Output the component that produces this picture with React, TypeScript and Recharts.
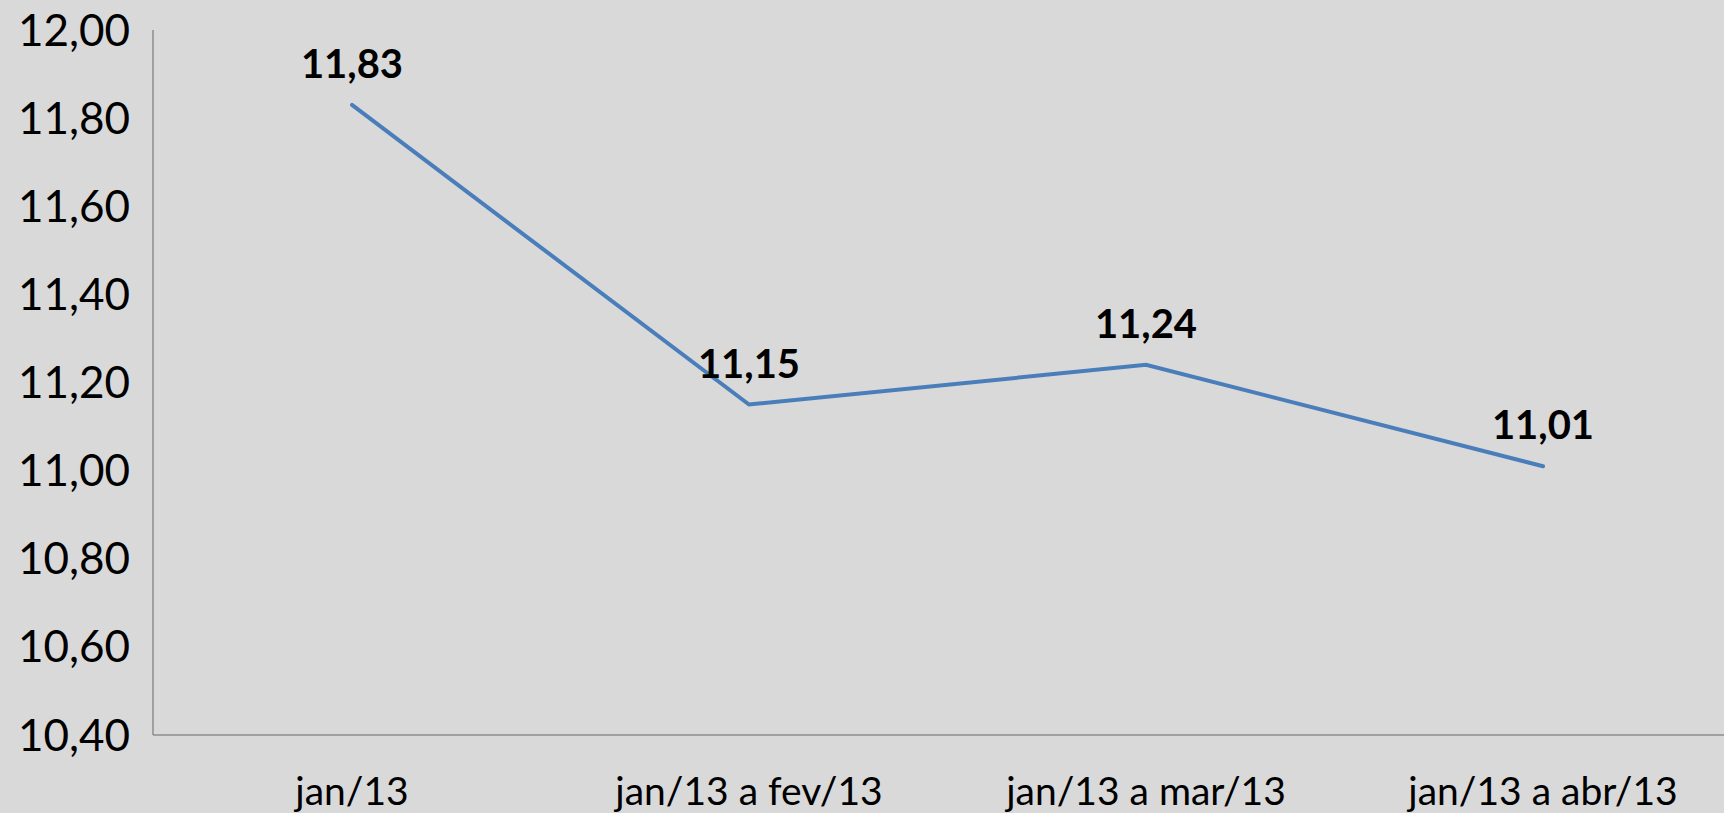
import React from 'react';
import { LineChart, Line, XAxis, YAxis, LabelList } from 'recharts';

const periods = ['jan/13', 'jan/13 a fev/13', 'jan/13 a mar/13', 'jan/13 a abr/13'];
const values = [11.83, 11.15, 11.24, 11.01];
const yTicks = [10.4, 10.6, 10.8, 11.0, 11.2, 11.4, 11.6, 11.8, 12.0];

const fmt = (v: number) => v.toFixed(2).replace('.', ',');

const chartData = periods.map((p, i) => ({ period: p, valor: values[i] }));

const FONT = 'Lato, "Open Sans", sans-serif';

export default function App() {
  return (
    <div
      style={{
        position: 'fixed',
        left: 0,
        top: 0,
        width: 1724,
        height: 813,
        overflow: 'hidden',
        background: '#d9d9d9',
        fontFamily: FONT,
      }}
    >
      <LineChart
        width={1745}
        height={813}
        data={chartData}
        margin={{ top: 30, right: 3, bottom: 18, left: 0 }}
      >
        <XAxis
          dataKey="period"
          height={60}
          padding={{ left: 199, right: 199 }}
          axisLine={{ stroke: '#8c8c8c', strokeWidth: 1.5 }}
          tickLine={false}
          tickSize={0}
          tickMargin={42}
          tick={{ fill: '#000', fontSize: 39, fontFamily: FONT }}
          interval={0}
        />
        <YAxis
          width={153}
          domain={[10.4, 12]}
          ticks={yTicks}
          tickFormatter={fmt}
          axisLine={{ stroke: '#8c8c8c', strokeWidth: 1.5 }}
          tickLine={false}
          tickSize={0}
          tickMargin={23}
          tick={{ fill: '#000', fontSize: 44, fontFamily: FONT }}
          allowDataOverflow
        />
        <Line
          type="linear"
          dataKey="valor"
          stroke="#4a7ebb"
          strokeWidth={4}
          strokeLinecap="round"
          dot={false}
          activeDot={false}
          isAnimationActive={false}
        >
          <LabelList
            dataKey="valor"
            position="top"
            offset={27}
            formatter={(v: number) => fmt(v)}
            style={{ fill: '#000', fontSize: 40, fontWeight: 700, fontFamily: FONT }}
          />
        </Line>
      </LineChart>
    </div>
  );
}
